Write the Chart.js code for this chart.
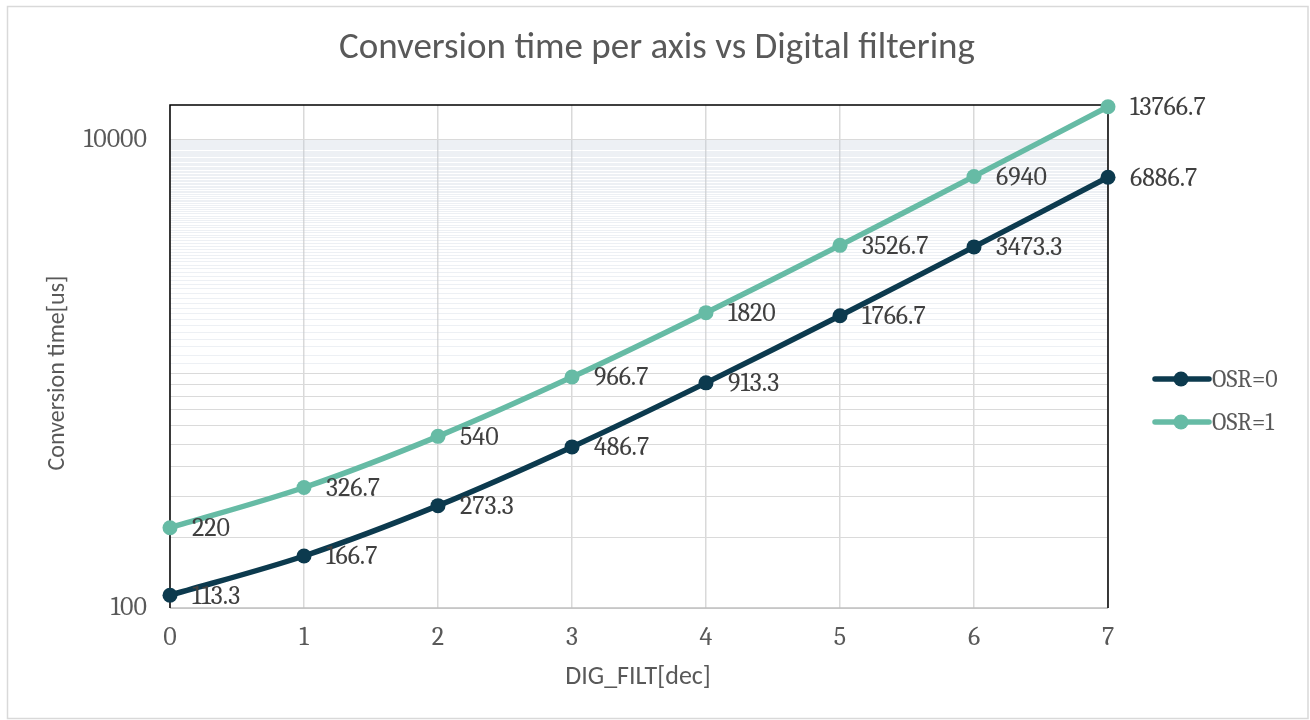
<!DOCTYPE html>
<html>
<head>
<meta charset="utf-8">
<script src="https://cdn.jsdelivr.net/npm/chart.js@4/dist/chart.umd.min.js"></script>
<style>
  html, body { margin: 0; padding: 0; background: #ffffff; }
  #wrap { width: 1310px; height: 720px; position: relative; }
</style>
</head>
<body>
<div id="wrap"><canvas id="c" width="1310" height="720"></canvas></div>
<script>
// ---- data ----
const CATEGORIES = ['0', '1', '2', '3', '4', '5', '6', '7'];
const OSR0 = [113.3, 166.7, 273.3, 486.7, 913.3, 1766.7, 3473.3, 6886.7];
const OSR1 = [220, 326.7, 540, 966.7, 1820, 3526.7, 6940, 13766.7];
const SERIES_NAMES = ['OSR=0', 'OSR=1'];
const Y_LABELED_TICKS = [100, 10000];
const Y_MIN = 100;
const Y_MAX = 14000;
const TITLE = 'Conversion time per axis vs Digital filtering';
const X_TITLE = 'DIG_FILT[dec]';
const Y_TITLE = 'Conversion time[us]';

// minor gridline values: every 100 from 100 to 10000
const Y_GRID = [];
for (let v = 100; v <= 10000; v += 100) Y_GRID.push(v);

const NAVY = '#0c3a4e';
const TEAL = '#66bba5';
const SANS = 'Carlito, Lato, "Open Sans", sans-serif';
const SERIF = 'Caladea, "Liberation Serif", serif';

const decorPlugin = {
  id: 'decor',
  beforeDraw(chart) {
    const ctx = chart.ctx;
    ctx.save();
    ctx.fillStyle = '#ffffff';
    ctx.fillRect(0, 0, chart.width, chart.height);
    ctx.strokeStyle = '#d9d9d9';
    ctx.lineWidth = 1.5;
    ctx.strokeRect(7.5, 6.5, 1300.5, 712);
    ctx.restore();
  },
  beforeDatasetsDraw(chart) {
    const ctx = chart.ctx;
    const a = chart.chartArea;
    ctx.save();
    ctx.lineWidth = 1.5;
    ctx.strokeStyle = '#bfbfbf';
    ctx.beginPath();
    ctx.moveTo(a.left, a.bottom);
    ctx.lineTo(a.right, a.bottom);
    ctx.stroke();
    ctx.strokeStyle = '#000000';
    ctx.beginPath();
    ctx.moveTo(a.left, a.bottom);
    ctx.lineTo(a.left, a.top);
    ctx.lineTo(a.right, a.top);
    ctx.lineTo(a.right, a.bottom);
    ctx.stroke();
    ctx.restore();
  },
  afterDatasetsDraw(chart) {
    const ctx = chart.ctx;
    ctx.save();
    // data labels
    ctx.font = '26px ' + SERIF;
    ctx.fillStyle = '#404040';
    ctx.textAlign = 'left';
    ctx.textBaseline = 'middle';
    chart.data.datasets.forEach((ds, di) => {
      const meta = chart.getDatasetMeta(di);
      meta.data.forEach((pt, i) => {
        ctx.fillText(String(ds.data[i]), pt.x + 22, pt.y + 1);
      });
    });
    // title
    ctx.fillStyle = '#595959';
    ctx.textAlign = 'center';
    ctx.font = '37px ' + SANS;
    ctx.fillText(TITLE, 657, 49);
    // axis titles
    ctx.font = '26px ' + SANS;
    ctx.fillText(X_TITLE, 638, 677);
    ctx.save();
    ctx.font = '24px ' + SANS;
    ctx.translate(58, 373);
    ctx.rotate(-Math.PI / 2);
    ctx.fillText(Y_TITLE, 0, 0);
    ctx.restore();
    // legend
    const ly = [379, 422];
    chart.data.datasets.forEach((ds, di) => {
      const y = ly[di];
      ctx.strokeStyle = ds.borderColor;
      ctx.lineWidth = 5.5;
      ctx.lineCap = 'round';
      ctx.beginPath();
      ctx.moveTo(1155, y);
      ctx.lineTo(1209, y);
      ctx.stroke();
      ctx.fillStyle = ds.borderColor;
      ctx.beginPath();
      ctx.arc(1181, y, 7.5, 0, Math.PI * 2);
      ctx.fill();
      ctx.fillStyle = '#595959';
      ctx.textAlign = 'left';
      ctx.font = '24px ' + SERIF;
      ctx.fillText(ds.label, 1212, y + 1);
    });
    ctx.restore();
  }
};

new Chart(document.getElementById('c'), {
  type: 'line',
  data: {
    labels: CATEGORIES,
    datasets: [
      { label: SERIES_NAMES[0], data: OSR0, borderColor: NAVY, backgroundColor: NAVY,
        borderWidth: 5.5, pointRadius: 7.5, pointBackgroundColor: NAVY, pointBorderWidth: 0,
        tension: 0.3, clip: false },
      { label: SERIES_NAMES[1], data: OSR1, borderColor: TEAL, backgroundColor: TEAL,
        borderWidth: 5.5, pointRadius: 7.5, pointBackgroundColor: TEAL, pointBorderWidth: 0,
        tension: 0.3, clip: false }
    ]
  },
  options: {
    responsive: false,
    animation: false,
    devicePixelRatio: 1,
    layout: { padding: { left: 0, right: 202, top: 105, bottom: 0 } },
    plugins: { legend: { display: false }, title: { display: false }, tooltip: { enabled: false } },
    scales: {
      x: {
        type: 'category',
        offset: false,
        grid: { color: '#d9d9d9', lineWidth: 1.5, drawTicks: false },
        border: { display: false },
        ticks: { color: '#595959', font: { family: SERIF, size: 26 }, padding: 14, autoSkip: false, maxRotation: 0 },
        afterFit(scale) { scale.height = 112; }
      },
      y: {
        type: 'logarithmic',
        min: Y_MIN,
        max: Y_MAX,
        grid: {
          drawTicks: false,
          lineWidth: 1,
          color: (c) => {
            const v = c.tick ? c.tick.value : 0;
            return (v <= 1000 || v === 10000) ? '#dadada' : 'rgba(196,206,218,0.30)';
          }
        },
        border: { display: false },
        afterBuildTicks(scale) { scale.ticks = Y_GRID.map(v => ({ value: v })); },
        ticks: {
          color: '#595959', font: { family: SERIF, size: 26 }, padding: 23, autoSkip: false,
          callback: (v) => Y_LABELED_TICKS.includes(v) ? String(v) : ''
        },
        afterFit(scale) { scale.width = 170; }
      }
    }
  },
  plugins: [decorPlugin]
});
</script>
</body>
</html>
